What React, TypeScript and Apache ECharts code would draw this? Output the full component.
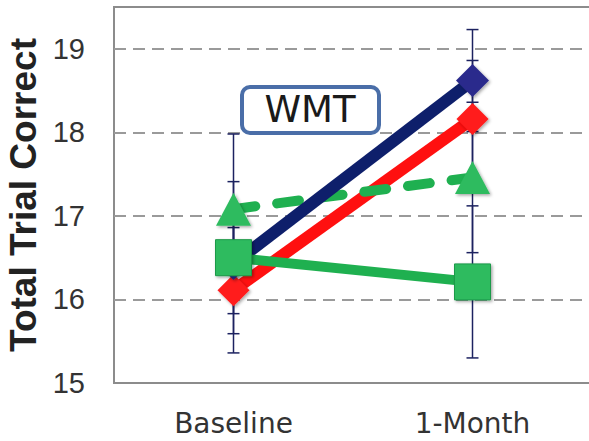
import React, { useEffect, useRef } from "react";
import * as echarts from "echarts";

const categories = ["Baseline", "1-Month"];
const navyMeans = [16.43, 18.62];
const navyErr = [0.6, 0.61];
const redMeans = [16.11, 18.16];
const redErr = [0.75, 0.7];
const triMeans = [17.08, 17.46];
const triErr = [0.9, 0.9];
const sqMeans = [16.5, 16.21];
const sqErr = [0.91, 0.91];
const yTicks = [15, 16, 17, 18, 19];
const yAxisTitle = "Total Trial Correct";
const boxLabel = "WMT";

const FONT = "'Liberation Sans', Arial, sans-serif";
const WIDE = "'DejaVu Sans', sans-serif";

export default function App() {
  const ref = useRef<HTMLDivElement>(null);
  useEffect(() => {
    if (!ref.current) return;
    const chart = echarts.init(ref.current, undefined, { renderer: "svg" });
    const errData: number[][] = [];
    [
      [navyMeans, navyErr],
      [redMeans, redErr],
      [triMeans, triErr],
      [sqMeans, sqErr],
    ].forEach(([m, e]) => {
      m.forEach((v, i) => errData.push([i, v - e[i], v + e[i]]));
    });
    const shadow = {
      shadowBlur: 3,
      shadowColor: "rgba(0,0,0,0.35)",
      shadowOffsetX: 1.5,
      shadowOffsetY: 1.5,
    };
    chart.setOption({
      animation: false,
      grid: {
        left: 114,
        top: 7,
        right: -3,
        bottom: 58,
        show: true,
        borderColor: "#8c8c8c",
        borderWidth: 2,
        backgroundColor: "#fff",
        outerBoundsMode: "none",
        containLabel: false,
      },
      xAxis: {
        type: "category",
        data: categories,
        axisLine: { show: false },
        axisTick: { show: false },
        axisLabel: { fontSize: 28, color: "#333", margin: 26, fontFamily: WIDE },
      },
      yAxis: {
        type: "value",
        min: 15,
        max: 19.5,
        interval: 1,
        name: yAxisTitle,
        nameLocation: "middle",
        nameGap: 72,
        nameTextStyle: { fontSize: 37, fontWeight: "bold", color: "#222", fontFamily: FONT },
        axisLine: { show: false },
        axisTick: { show: false },
        axisLabel: {
          fontSize: 29,
          color: "#333",
          margin: 29,
          fontFamily: FONT,
          formatter: (v: number) => (yTicks.includes(v) ? String(v) : ""),
        },
        splitLine: {
          show: true,
          showMinLine: false,
          showMaxLine: false,
          lineStyle: { color: "#9a9a9a", width: 2, type: [12, 7] },
        },
      },
      graphic: [
        {
          type: "rect",
          left: 240,
          top: 85,
          shape: { width: 137, height: 46, r: 8 },
          style: { fill: "#fff", stroke: "#4a6ea8", lineWidth: 4 },
          z: 10,
        },
        {
          type: "text",
          x: 310,
          y: 109,
          style: {
            text: boxLabel,
            font: `37px ${WIDE}`,
            fill: "#1a1a1a",
            align: "center",
            verticalAlign: "middle",
          },
          z: 11,
        },
      ],
      series: [
        {
          type: "custom",
          z: 1,
          data: errData,
          renderItem: (params: any, api: any) => {
            const x = api.value(0);
            const pLo = api.coord([x, api.value(1)]);
            const pHi = api.coord([x, api.value(2)]);
            const hw = 6;
            const st = { stroke: "#1c2260", lineWidth: 1.5 };
            return {
              type: "group",
              children: [
                { type: "line", shape: { x1: pLo[0], y1: pLo[1], x2: pHi[0], y2: pHi[1] }, style: st },
                { type: "line", shape: { x1: pLo[0] - hw, y1: pLo[1], x2: pLo[0] + hw, y2: pLo[1] }, style: st },
                { type: "line", shape: { x1: pHi[0] - hw, y1: pHi[1], x2: pHi[0] + hw, y2: pHi[1] }, style: st },
              ],
            };
          },
        },
        {
          type: "line",
          name: "red",
          z: 2,
          data: redMeans,
          symbol: "diamond",
          symbolSize: 32,
          lineStyle: { color: "#ff1010", width: 12 },
          itemStyle: { color: "#ff1a1a", ...shadow },
        },
        {
          type: "line",
          name: "triangle",
          z: 3,
          data: triMeans,
          symbol: "triangle",
          symbolSize: [35, 33],
          lineStyle: { color: "#1fb050", width: 10, type: [22, 22], cap: "round" },
          itemStyle: { color: "#2dbb5f", ...shadow },
        },
        {
          type: "line",
          name: "navy",
          z: 4,
          data: navyMeans,
          symbol: "diamond",
          symbolSize: 33,
          lineStyle: { color: "#0e1f6b", width: 12 },
          itemStyle: { color: "#2c2a8c", ...shadow },
        },
        {
          type: "line",
          name: "square",
          z: 5,
          data: sqMeans,
          symbol: "rect",
          symbolSize: 36,
          lineStyle: { color: "#1fb050", width: 10 },
          itemStyle: { color: "#2dbb5f", borderColor: "#1f9a4a", borderWidth: 1, ...shadow },
        },
      ],
    });
    return () => chart.dispose();
  }, []);
  return (
    <div
      ref={ref}
      style={{ position: "fixed", left: 0, top: 0, width: 589, height: 441, background: "#fff" }}
    />
  );
}
